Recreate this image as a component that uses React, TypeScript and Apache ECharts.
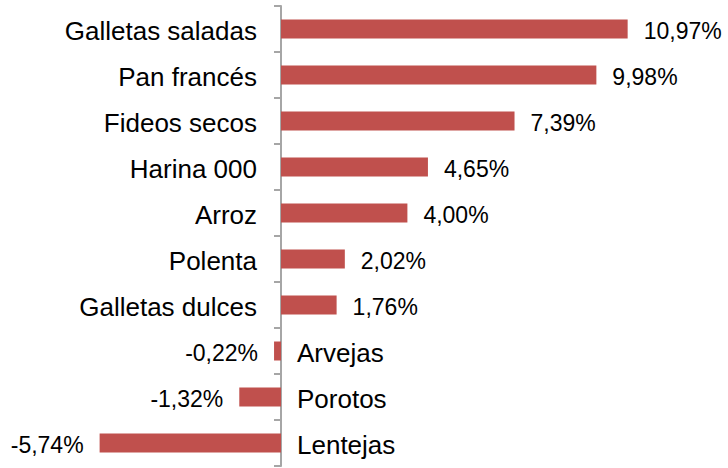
import React, { useEffect, useRef } from "react";
import * as echarts from "echarts";

const categories = [
  "Galletas saladas",
  "Pan francés",
  "Fideos secos",
  "Harina 000",
  "Arroz",
  "Polenta",
  "Galletas dulces",
  "Arvejas",
  "Porotos",
  "Lentejas",
];
const values = [10.97, 9.98, 7.39, 4.65, 4.0, 2.02, 1.76, -0.22, -1.32, -5.74];

const FONT = "'Liberation Sans', Arial, Helvetica, sans-serif";

export default function App() {
  const ref = useRef<HTMLDivElement>(null);
  useEffect(() => {
    if (!ref.current) return;
    const chart = echarts.init(ref.current, undefined, { renderer: "svg" });
    const fmt = (v: number) => v.toFixed(2).replace(".", ",") + "%";
    chart.setOption({
      animation: false,
      grid: { left: 28.2, width: 663.6, top: 6, height: 460 },
      xAxis: {
        type: "value",
        min: -8,
        max: 13,
        show: false,
      },
      yAxis: {
        type: "category",
        inverse: true,
        data: categories,
        axisLine: { show: true, onZero: true, lineStyle: { color: "#a6a6a6", width: 2 } },
        axisTick: { show: true, length: 7, lineStyle: { color: "#a6a6a6", width: 2 } },
        axisLabel: { show: false },
        splitLine: { show: false },
      },
      series: [
        {
          type: "bar",
          barWidth: 19,
          barGap: "-100%",
          itemStyle: { color: "#C0504D" },
          data: values.map((v) => ({
            value: v,
            label: {
              show: true,
              position: v >= 0 ? "right" : "left",
              distance: 16,
              offset: [0, 2],
              formatter: fmt(v),
              fontFamily: FONT,
              fontSize: 23,
              color: "#000",
            },
          })),
        },
        {
          type: "bar",
          barWidth: 19,
          barGap: "-100%",
          itemStyle: { color: "transparent" },
          silent: true,
          data: values.map((v, i) => ({
            value: 0,
            label: {
              show: true,
              position: v >= 0 ? "left" : "right",
              distance: v >= 0 ? 24 : 16,
              offset: [0, 2],
              formatter: categories[i],
              fontFamily: FONT,
              fontSize: 26,
              color: "#000",
            },
          })),
        },
      ],
    });
    return () => chart.dispose();
  }, []);
  return (
    <div
      ref={ref}
      style={{ position: "fixed", left: 0, top: 0, width: 728, height: 468, background: "#fff" }}
    />
  );
}
